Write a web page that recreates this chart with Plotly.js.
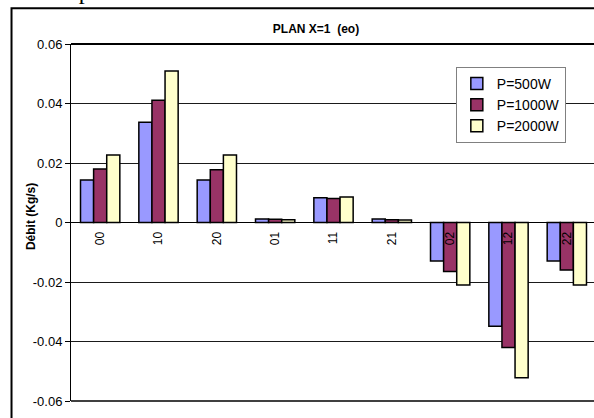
<!DOCTYPE html>
<html>
<head>
<meta charset="utf-8">
<script src="https://cdn.plot.ly/plotly-3.0.1.min.js"></script>
<style>
  html, body { margin: 0; padding: 0; background: #fff; overflow: hidden; }
  #chart { width: 596px; height: 418px; }
</style>
</head>
<body>
<div id="chart"></div>
<script>
// Flow rate per opening of plane X=1, for three heating powers
const categories = ['00', '10', '20', '01', '11', '21', '02', '12', '22'];
const p500  = [0.0143, 0.0337, 0.0143, 0.0012, 0.0083, 0.0012, -0.0129, -0.0349, -0.0129];
const p1000 = [0.0180, 0.0411, 0.0177, 0.0011, 0.0081, 0.0009, -0.0165, -0.0420, -0.0160];
const p2000 = [0.0227, 0.0509, 0.0227, 0.0009, 0.0086, 0.0008, -0.0210, -0.0522, -0.0210];
const seriesNames = ['P=500W', 'P=1000W', 'P=2000W'];
const seriesColors = ['#9999FF', '#993366', '#FFFFCC'];
const yTickVals = [0.06, 0.04, 0.02, 0, -0.02, -0.04, -0.06];
const yTickText = ['0.06', '0.04', '0.02', '0', '-0.02', '-0.04', '-0.06'];

const FONT = 'Liberation Sans, Arial, sans-serif';

const traces = [p500, p1000, p2000].map((vals, i) => ({
  type: 'bar',
  x: categories,
  y: vals,
  name: seriesNames[i],
  legendgroup: 'g' + i,
  marker: { color: seriesColors[i], line: { color: '#000', width: 1.5 } },
  hoverinfo: 'x+y+name'
}));

const layout = {
  width: 596,
  height: 418,
  margin: { l: 71, r: 0, t: 44, b: 17 },
  paper_bgcolor: '#fff',
  plot_bgcolor: '#fff',
  font: { family: FONT, color: '#000' },
  barmode: 'group',
  bargap: 0.326,
  bargroupgap: 0,
  title: {
    text: 'PLAN X=1 \u00a0(eo)',
    font: { family: FONT, size: 12, weight: 700, color: '#000' },
    xref: 'paper', x: 0.4667, xanchor: 'center',
    yref: 'container', y: 0.9306, yanchor: 'middle'
  },
  xaxis: {
    type: 'category',
    anchor: 'free',
    position: 0.5,
    showgrid: false,
    showline: false,
    ticks: '',
    tickangle: -90,
    ticklabelstandoff: 6,
    tickfont: { family: FONT, size: 12, color: '#000' },
    fixedrange: true
  },
  yaxis: {
    range: [-0.06, 0.06],
    tickvals: yTickVals,
    ticktext: yTickText,
    ticks: 'outside',
    ticklen: 5,
    tickcolor: '#000',
    tickfont: { family: FONT, size: 13, color: '#000' },
    showline: true,
    linecolor: '#000',
    linewidth: 1,
    showgrid: true,
    gridcolor: '#1a1a1a',
    gridwidth: 1,
    zeroline: true,
    zerolinecolor: '#000',
    zerolinewidth: 1,
    fixedrange: true
  },
  legend: {
    x: 0.733, xanchor: 'left',
    y: 0.936, yanchor: 'top',
    bgcolor: '#fff',
    bordercolor: '#808080',
    borderwidth: 1,
    font: { family: FONT, size: 14, color: '#000' },
    tracegroupgap: 8,
    traceorder: 'normal'
  },
  annotations: [
    {
      text: '<b>Débit (Kg/s)</b>',
      xref: 'paper', yref: 'paper',
      x: -0.0762, y: 0.518,
      xanchor: 'center', yanchor: 'middle',
      textangle: -90,
      showarrow: false,
      font: { family: FONT, size: 12, color: '#000' }
    },
    {
      text: 'même plan.',
      xref: 'paper', yref: 'paper',
      x: -0.112, y: 1.1064,
      xanchor: 'left', yanchor: 'bottom',
      showarrow: false,
      font: { family: 'Liberation Serif, Times New Roman, serif', size: 24, color: '#000' }
    }
  ],
  shapes: [
    // plot area top and bottom borders
    { type: 'line', xref: 'paper', yref: 'paper', x0: 0, x1: 1, y0: 1, y1: 1,
      line: { color: '#000', width: 2 } },
    { type: 'line', xref: 'paper', yref: 'paper', x0: 0, x1: 1, y0: 0, y1: 0,
      line: { color: '#404040', width: 2 } },
    // outer chart frame
    { type: 'rect', xref: 'paper', yref: 'paper',
      x0: -0.1133, x1: 1.05, y0: -0.1, y1: 1.1,
      line: { color: '#000', width: 2 }, fillcolor: 'rgba(0,0,0,0)' }
  ],
  showlegend: true
};

Plotly.newPlot('chart', traces, layout, { displayModeBar: false, staticPlot: true });
</script>
</body>
</html>
